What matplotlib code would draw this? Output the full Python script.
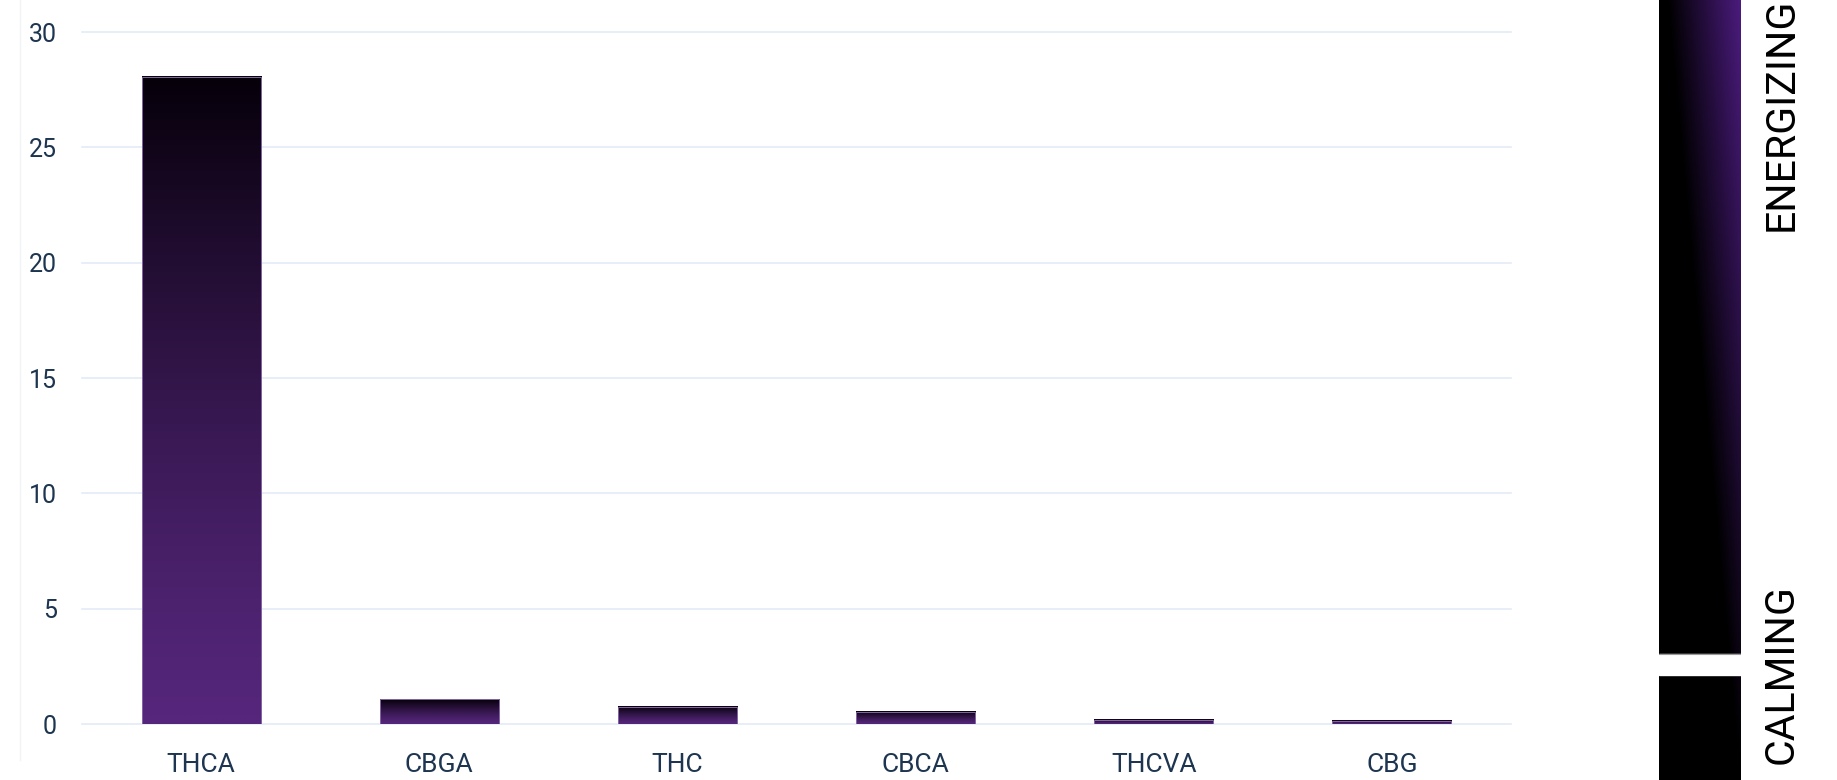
import numpy as np
import matplotlib.pyplot as plt
from matplotlib.colors import LinearSegmentedColormap

names = ["THCA", "CBGA", "THC", "CBCA", "THCVA", "CBG"]
values = [28.05, 1.07, 0.74, 0.54, 0.18, 0.14]
yticks = [0, 5, 10, 15, 20, 25, 30]

W, H = 1837, 780
fig = plt.figure(figsize=(W / 100, H / 100), dpi=100)

# faint frame line on the left
fig.add_artist(plt.Line2D([20 / W, 20 / W], [1 - 760 / H, 1], color="#f2f3f6", lw=1))

ax = fig.add_axes([82 / W, 1 - 724 / H, 1429 / W, 692 / H])
x = np.arange(len(names))
bars = ax.bar(x, values, 0.5, facecolor="none", edgecolor="#8468a3", lw=0.7, zorder=3)

# vertical gradient inside each bar: purple at bottom, black at top
bar_cmap = LinearSegmentedColormap.from_list("bar", ["#55267b", "#06000a"])
t = np.linspace(0, 1, 256).reshape(-1, 1) ** 1.3
for b in bars:
    x0, w, h = b.get_x(), b.get_width(), b.get_height()
    ax.imshow(t, cmap=bar_cmap, origin="lower", aspect="auto",
              extent=[x0, x0 + w, 0, h], zorder=2, interpolation="bilinear")

for yv in yticks:
    ax.axhline(yv, color="#e3ebf6", lw=1.2, zorder=1, clip_on=False)

ax.set_xlim(-0.5, 5.5)
ax.set_ylim(0, 30)
ax.set_xticks(x)
ax.set_xticklabels(names, fontsize=19, color="#1d3550", family="Roboto")
ax.set_yticks(yticks)
ax.set_yticklabels([str(v) for v in yticks], fontsize=18, color="#1d3550", family="Roboto")
ax.tick_params(axis="both", length=0)
ax.tick_params(axis="y", pad=18)
ax.tick_params(axis="x", pad=21)
for s in ax.spines.values():
    s.set_visible(False)

# side scale bar
sax = fig.add_axes([1659 / W, 0, 82 / W, 1])
u = np.linspace(0, 1, 82)[None, :]
wv = np.linspace(0, 1, 780)[:, None]
v = np.clip(1.11 * u + wv - 1.11, 0, 1)
side_cmap = LinearSegmentedColormap.from_list("side", ["#000000", "#4b1b7d"])
sax.imshow(v, cmap=side_cmap, origin="lower", aspect="auto", extent=[0, 1, 0, 1])
sax.axhspan(1 - 675 / H, 1 - 654 / H, color="white", zorder=3)
sax.axhline(1 - 654 / H, color="#9a9a9a", lw=0.8, zorder=4)
sax.set_xlim(0, 1)
sax.set_ylim(0, 1)
sax.axis("off")

fig.text(1781 / W, 1 - 231 / H, "ENERGIZING", rotation=90, ha="center", va="bottom",
         fontsize=29.5, color="black", family="Roboto")
fig.text(1781 / W, 1 - 764 / H, "CALMING", rotation=90, ha="center", va="bottom",
         fontsize=29.5, color="black", family="Roboto")

fig.savefig("out.png", dpi=100)
